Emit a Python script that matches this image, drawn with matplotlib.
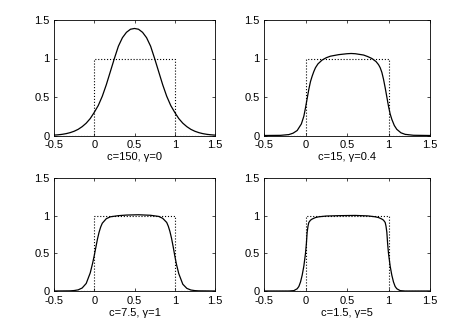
import numpy as np
import matplotlib
matplotlib.use('Agg')
import matplotlib.pyplot as plt

plt.rcParams['font.family'] = ['Liberation Sans', 'DejaVu Sans']
plt.rcParams['axes.unicode_minus'] = False

# target box function (dotted)
box_x = [-0.5, 0, 0, 1, 1, 1.5]
box_y = [0, 0, 1, 1, 0, 0]

# c=150, gamma=0  (symmetric about 0.5, read at 0.05 steps)
x1 = [-0.5, -0.45, -0.4, -0.35, -0.3, -0.25, -0.2, -0.15, -0.1, -0.05,
      0.0, 0.05, 0.1, 0.15, 0.2, 0.25, 0.3, 0.35, 0.4, 0.45, 0.5,
      0.55, 0.6, 0.65, 0.7, 0.75, 0.8, 0.85, 0.9, 0.95, 1.0,
      1.05, 1.1, 1.15, 1.2, 1.25, 1.3, 1.35, 1.4, 1.45, 1.5]
y1 = [0.005, 0.009, 0.015, 0.024, 0.037, 0.055, 0.08, 0.115, 0.16, 0.22,
      0.30, 0.39, 0.51, 0.66, 0.83, 1.00, 1.16, 1.27, 1.34, 1.38, 1.39,
      1.38, 1.34, 1.27, 1.16, 1.00, 0.83, 0.66, 0.51, 0.39, 0.30,
      0.22, 0.16, 0.115, 0.08, 0.055, 0.037, 0.024, 0.015, 0.009, 0.005]

# c=15, gamma=0.4
x2 = [-0.5, -0.3, -0.2, -0.15, -0.1, -0.05, -0.02, 0.0, 0.02, 0.04, 0.06,
      0.08, 0.1, 0.12, 0.15, 0.2, 0.25, 0.3, 0.4, 0.5, 0.55, 0.6, 0.7,
      0.75, 0.8, 0.85, 0.88, 0.9, 0.92, 0.94, 0.96, 0.98, 1.0, 1.02,
      1.04, 1.07, 1.1, 1.15, 1.2, 1.3, 1.5]
y2 = [0.0, 0.002, 0.012, 0.03, 0.065, 0.15, 0.25, 0.36, 0.48, 0.60, 0.70,
      0.77, 0.83, 0.88, 0.93, 0.98, 1.01, 1.03, 1.05, 1.062, 1.065, 1.062, 1.045,
      1.025, 1.0, 0.96, 0.92, 0.88, 0.82, 0.73, 0.62, 0.50, 0.38, 0.28,
      0.21, 0.13, 0.08, 0.035, 0.015, 0.003, 0.0]

# c=7.5, gamma=1
x3 = [-0.5, -0.3, -0.25, -0.2, -0.15, -0.1, -0.05, -0.02, 0.0, 0.02, 0.04,
      0.06, 0.08, 0.1, 0.15, 0.2, 0.3, 0.4, 0.55, 0.7, 0.8, 0.85, 0.9,
      0.92, 0.94, 0.96, 0.98, 1.0, 1.02, 1.05, 1.1, 1.15, 1.2, 1.25,
      1.3, 1.5]
y3 = [0.0, 0.002, 0.006, 0.015, 0.04, 0.10, 0.24, 0.37, 0.47, 0.58, 0.69,
      0.78, 0.85, 0.90, 0.96, 0.985, 1.0, 1.008, 1.012, 1.005, 0.99, 0.965, 0.91,
      0.86, 0.79, 0.70, 0.59, 0.47, 0.36, 0.23, 0.09, 0.035, 0.013, 0.005,
      0.002, 0.0]

# c=1.5, gamma=5
x4 = [-0.5, -0.2, -0.14, -0.1, -0.08, -0.06, -0.04, -0.02, 0.0, 0.01, 0.02,
      0.03, 0.04, 0.06, 0.08, 0.12, 0.16, 0.25, 0.4, 0.6, 0.75, 0.84, 0.88,
      0.92, 0.94, 0.96, 0.97, 0.98, 0.99, 1.0, 1.02, 1.04, 1.06, 1.08,
      1.1, 1.14, 1.2, 1.5]
y4 = [0.0, 0.0, 0.005, 0.03, 0.06, 0.12, 0.21, 0.33, 0.50, 0.62, 0.78,
      0.86, 0.91, 0.94, 0.955, 0.975, 0.985, 0.995, 1.0, 1.003, 0.997, 0.985, 0.975,
      0.955, 0.94, 0.91, 0.86, 0.78, 0.62, 0.50, 0.33, 0.21, 0.12, 0.06,
      0.03, 0.005, 0.0, 0.0]

curves = [(x1, y1), (x2, y2), (x3, y3), (x4, y4)]
labels = ['c=150, γ=0', 'c=15, γ=0.4', 'c=7.5, γ=1', 'c=1.5, γ=5']
xticks = [-0.5, 0, 0.5, 1, 1.5]
xticklabels = ['-0.5', '0', '0.5', '1', '1.5']
yticks = [0, 0.5, 1, 1.5]
yticklabels = ['0', '0.5', '1', '1.5']

W, H = 463, 327
# axes boxes in pixels: left, top, right, bottom
boxes = [(54, 20, 215, 135.5), (264, 20, 430, 135.5),
         (54, 178, 215, 291), (264, 178, 430, 291)]

fig = plt.figure(figsize=(W / 100, H / 100), dpi=100)
for (l, t, r, b), (cx, cy), lab in zip(boxes, curves, labels):
    ax = fig.add_axes([l / W, (H - b) / H, (r - l) / W, (b - t) / H])
    ax.plot(box_x, box_y, color='k', linestyle=':', linewidth=0.8)
    ax.plot(cx, cy, color='k', linewidth=0.9)
    ax.set_xlim(-0.5, 1.5)
    ax.set_ylim(0, 1.5)
    ax.set_xticks(xticks)
    ax.set_xticklabels(xticklabels)
    ax.set_yticks(yticks)
    ax.set_yticklabels(yticklabels)
    ax.tick_params(direction='in', length=2.5, width=0.5, labelsize=8,
                   top=True, right=True)
    ax.tick_params(axis='x', pad=3.5)
    ax.tick_params(axis='y', pad=3)
    for s in ax.spines.values():
        s.set_linewidth(0.6)
    ax.set_xlabel(lab, fontsize=8, labelpad=1.5)

fig.savefig('out.png', dpi=100)
